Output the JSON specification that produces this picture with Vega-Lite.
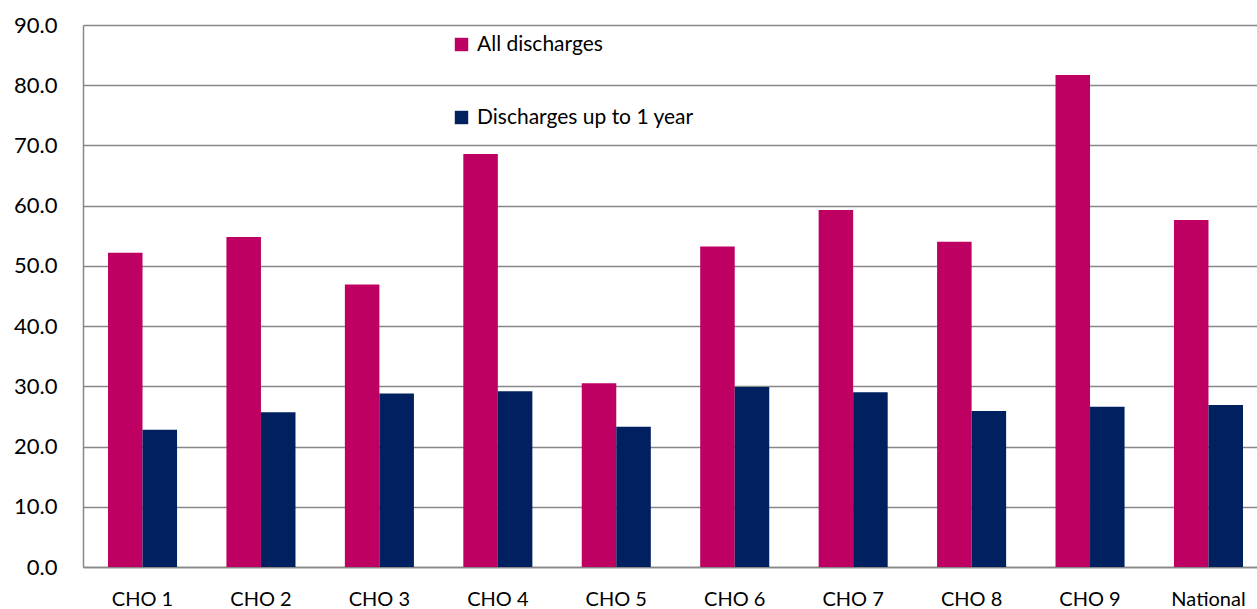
{
  "$schema": "https://vega.github.io/schema/vega-lite/v6.json",
  "width": 1185,
  "height": 542,
  "autosize": {"type": "none"},
  "padding": {"left": 83, "top": 25, "right": 0, "bottom": 42},
  "background": "white",
  "data": {
    "values": [
      {"area": "CHO 1", "series": "All discharges", "value": 52.2},
      {"area": "CHO 1", "series": "Discharges up to 1 year", "value": 22.8},
      {"area": "CHO 2", "series": "All discharges", "value": 54.8},
      {"area": "CHO 2", "series": "Discharges up to 1 year", "value": 25.7},
      {"area": "CHO 3", "series": "All discharges", "value": 46.9},
      {"area": "CHO 3", "series": "Discharges up to 1 year", "value": 28.8},
      {"area": "CHO 4", "series": "All discharges", "value": 68.6},
      {"area": "CHO 4", "series": "Discharges up to 1 year", "value": 29.2},
      {"area": "CHO 5", "series": "All discharges", "value": 30.5},
      {"area": "CHO 5", "series": "Discharges up to 1 year", "value": 23.3},
      {"area": "CHO 6", "series": "All discharges", "value": 53.2},
      {"area": "CHO 6", "series": "Discharges up to 1 year", "value": 29.9},
      {"area": "CHO 7", "series": "All discharges", "value": 59.3},
      {"area": "CHO 7", "series": "Discharges up to 1 year", "value": 29.0},
      {"area": "CHO 8", "series": "All discharges", "value": 54.0},
      {"area": "CHO 8", "series": "Discharges up to 1 year", "value": 25.9},
      {"area": "CHO 9", "series": "All discharges", "value": 81.7},
      {"area": "CHO 9", "series": "Discharges up to 1 year", "value": 26.6},
      {"area": "National", "series": "All discharges", "value": 57.6},
      {"area": "National", "series": "Discharges up to 1 year", "value": 26.9}
    ]
  },
  "config": {
    "font": "Lato",
    "view": {"stroke": null}
  },
  "mark": {"type": "bar"},
  "encoding": {
    "x": {
      "field": "area",
      "type": "nominal",
      "sort": null,
      "scale": {"paddingInner": 0.417, "paddingOuter": 0.211},
      "axis": {
        "title": null,
        "labelAngle": 0,
        "labelFontSize": 20,
        "labelColor": "#000000",
        "labelPadding": 22,
        "ticks": false,
        "domainColor": "#888888",
        "domainWidth": 1.5,
        "grid": false
      }
    },
    "xOffset": {"field": "series", "type": "nominal", "scale": {"paddingInner": 0, "paddingOuter": 0}},
    "y": {
      "field": "value",
      "type": "quantitative",
      "scale": {"domain": [0, 90], "nice": false},
      "axis": {
        "title": null,
        "values": [0, 10, 20, 30, 40, 50, 60, 70, 80, 90],
        "format": ".1f",
        "labelFontSize": 22,
        "labelColor": "#000000",
        "labelPadding": 26,
        "ticks": false,
        "domainColor": "#888888",
        "domainWidth": 1.5,
        "gridColor": "#888888",
        "gridWidth": 1.5
      }
    },
    "color": {
      "field": "series",
      "type": "nominal",
      "scale": {"domain": ["All discharges", "Discharges up to 1 year"], "range": ["#BE0062", "#00205F"]},
      "legend": {
        "title": null,
        "orient": "none",
        "legendX": 368,
        "legendY": 9,
        "symbolType": "square",
        "symbolSize": 180,
        "symbolStrokeWidth": 0,
        "labelFontSize": 21,
        "labelColor": "#000000",
        "labelOffset": 5,
        "rowPadding": 51,
        "labelLimit": 400
      }
    }
  }
}
